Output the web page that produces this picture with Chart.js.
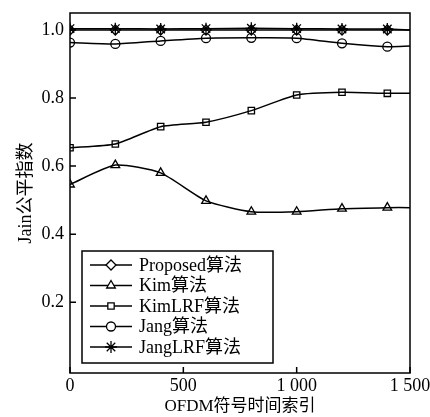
<!DOCTYPE html>
<html>
<head>
<meta charset="utf-8">
<script src="https://cdn.jsdelivr.net/npm/chart.js@4.4.0/dist/chart.umd.min.js"></script>
<style>
  html, body { margin: 0; padding: 0; background: #fff; }
  #wrap { width: 430px; height: 417px; }
</style>
</head>
<body>
<div id="wrap"><canvas id="fairChart" width="430" height="417"></canvas></div>
<script>
// time index (last point is the line end at the right border, no marker)
const timeIndex = [0, 200, 400, 600, 800, 1000, 1200, 1400, 1500];
const proposed = [1.0, 1.0, 1.0, 1.0, 1.0, 1.0, 1.0, 1.0, 1.0];
const kim = [0.546, 0.603, 0.580, 0.498, 0.466, 0.466, 0.475, 0.478, 0.478];
const kimLRF = [0.654, 0.665, 0.716, 0.729, 0.763, 0.809, 0.817, 0.814, 0.814];
const jang = [0.963, 0.959, 0.968, 0.976, 0.977, 0.976, 0.961, 0.951, 0.953];
const jangLRF = [1.004, 1.004, 1.003, 1.004, 1.005, 1.004, 1.003, 1.003, 1.0];
const yTicks = [0.2, 0.4, 0.6, 0.8, 1.0];
const xTicks = [0, 500, 1000, 1500];
const seriesNames = ['Proposed算法', 'Kim算法', 'KimLRF算法', 'Jang算法', 'JangLRF算法'];

const FONT = '"Liberation Serif", "Noto Sans CJK SC", serif';

function toPoints(values) {
    return values.map((v, i) => ({ x: timeIndex[i], y: v }));
}
// no marker on the final (border) point
const radii = (r) => timeIndex.map((t, i) => (i === timeIndex.length - 1 ? 0 : r));

function series(label, values, style, r) {
    return {
        label: label,
        data: toPoints(values),
        borderColor: '#000',
        backgroundColor: 'rgba(0,0,0,0)',
        borderWidth: 1.5,
        pointStyle: style,
        pointRadius: radii(r),
        pointBorderWidth: 1.3,
        pointBorderColor: '#000',
        pointBackgroundColor: 'rgba(0,0,0,0)',
        tension: 0.2
    };
}

// inward tick marks + frame
const frameTicks = {
    id: 'frameTicks',
    afterDatasetsDraw(chart) {
        const { ctx, chartArea: a, scales } = chart;
        ctx.save();
        ctx.strokeStyle = '#000';
        ctx.lineWidth = 1.5;
        ctx.strokeRect(a.left, a.top, a.right - a.left, a.bottom - a.top);
        ctx.beginPath();
        yTicks.forEach(v => {
            const y = scales.y.getPixelForValue(v);
            ctx.moveTo(a.left, y); ctx.lineTo(a.left + 6, y);
        });
        xTicks.forEach(v => {
            const x = scales.x.getPixelForValue(v);
            ctx.moveTo(x, a.bottom); ctx.lineTo(x, a.bottom - 6);
        });
        ctx.stroke();
        ctx.restore();
    }
};

// boxed legend inside the plot
const boxLegend = {
    id: 'boxLegend',
    afterDraw(chart) {
        const ctx = chart.ctx;
        const left = 82, top = 251, w = 191, h = 112;
        ctx.save();
        ctx.fillStyle = '#fff';
        ctx.fillRect(left, top, w, h);
        ctx.strokeStyle = '#000';
        ctx.lineWidth = 1.5;
        ctx.strokeRect(left, top, w, h);
        ctx.font = '18px ' + FONT;
        ctx.textBaseline = 'middle';
        chart.data.datasets.forEach((ds, i) => {
            const y = top + 14 + i * 20.5;
            ctx.strokeStyle = '#000';
            ctx.beginPath();
            ctx.moveTo(left + 8, y); ctx.lineTo(left + 50, y);
            ctx.lineWidth = 1.5;
            ctx.stroke();
            ctx.lineWidth = 1.3;
            ctx.fillStyle = '#fff';
            Chart.helpers.drawPoint(ctx, {
                pointStyle: ds.pointStyle,
                rotation: 0,
                radius: ds.pointRadius[0],
                borderWidth: 1.3
            }, left + 29, y);
            ctx.fillStyle = '#000';
            ctx.fillText(ds.label, left + 57, y + 1);
        });
        ctx.restore();
    }
};

new Chart(document.getElementById('fairChart'), {
    type: 'line',
    data: {
        datasets: [
            series(seriesNames[0], proposed, 'rectRot', 5),
            series(seriesNames[1], kim, 'triangle', 5),
            series(seriesNames[2], kimLRF, 'rect', 4.5),
            series(seriesNames[3], jang, 'circle', 4.5),
            series(seriesNames[4], jangLRF, 'star', 6)
        ]
    },
    options: {
        responsive: false,
        animation: false,
        devicePixelRatio: 1,
        layout: { padding: { top: 13, right: 20, left: 15, bottom: 0 } },
        plugins: {
            legend: { display: false },
            tooltip: { enabled: false }
        },
        scales: {
            x: {
                type: 'linear',
                min: 0,
                max: 1500,
                afterBuildTicks: (s) => { s.ticks = xTicks.map(v => ({ value: v })); },
                afterFit: (s) => { s.height = 44; s.paddingLeft = 0; s.paddingRight = 0; },
                grid: { display: false, drawTicks: false },
                border: { display: false },
                ticks: {
                    color: '#000',
                    padding: 2,
                    maxRotation: 0,
                    font: { family: FONT, size: 18 },
                    callback: (v) => v >= 1000 ? String(v).replace(/(\d)(\d{3})$/, '$1 $2') : String(v)
                },
                title: {
                    display: true,
                    text: 'OFDM符号时间索引',
                    color: '#000',
                    padding: { top: 0, bottom: 0 },
                    font: { family: FONT, size: 17 }
                }
            },
            y: {
                min: -0.008,
                max: 1.05,
                afterBuildTicks: (s) => { s.ticks = yTicks.map(v => ({ value: v })); },
                afterFit: (s) => { s.width = 55; s.paddingTop = 0; s.paddingBottom = 0; },
                grid: { display: false, drawTicks: false },
                border: { display: false },
                ticks: {
                    color: '#000',
                    padding: 6,
                    font: { family: FONT, size: 18 },
                    callback: (v) => v.toFixed(1)
                },
                title: {
                    display: true,
                    text: 'Jain公平指数',
                    color: '#000',
                    padding: { top: 0, bottom: 0 },
                    font: { family: FONT, size: 18 }
                }
            }
        }
    },
    plugins: [frameTicks, boxLegend]
});
</script>
</body>
</html>
